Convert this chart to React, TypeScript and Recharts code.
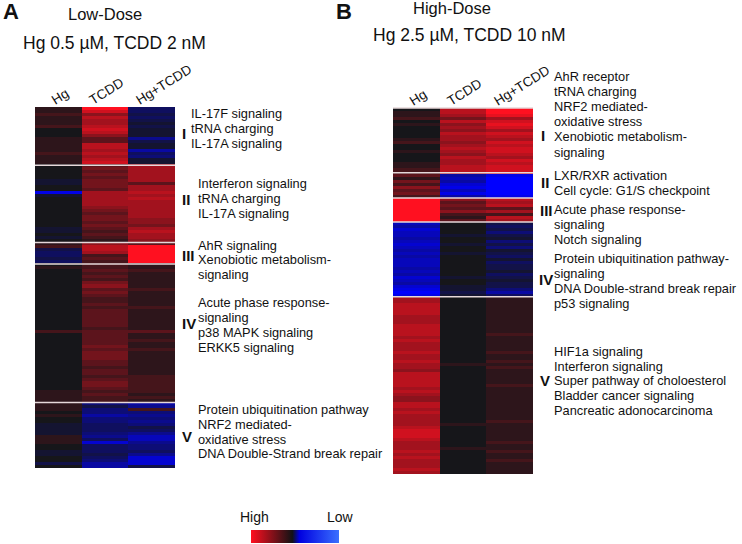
import React from "react";
import { BarChart, Bar, Cell, XAxis, YAxis, ReferenceLine } from "recharts";

const columns = ["Hg", "TCDD", "Hg+TCDD"];
const tickShift = [-3, -12, -12];

// Expression level per row, -10 (low) to 10 (high), one line per cluster.
const aHg = [
  1,1,2,1,1,1,2,0,0,0,1,1,1,1,1,2,1,1,1,
  0,0,0,0,0,-1,-1,0,0,-9,-1,0,0,0,0,0,0,0,0,0,0,-1,-1,0,-1,0,
  1,2,-2,-3,-3,-2,-3,
  0,1,0,0,0,0,0,0,0,0,0,0,0,0,0,0,0,0,0,0,0,0,2,0,0,0,0,0,0,0,0,0,0,0,0,0,0,0,0,0,0,0,1,1,1,1,
  1,1,1,0,1,0,0,-1,-1,-1,-1,1,1,1,0,0,-1,-1,0,0,-2,0,
];
const aTcdd = [
  10,8,5,7,6,6,7,8,7,5,3,3,7,7,6,7,6,7,8,
  3,4,3,4,3,4,4,4,3,6,6,6,6,6,5,4,3,4,4,3,4,3,2,3,2,1,
  5,7,7,6,2,3,2,
  2,2,3,2,3,2,4,5,3,4,3,2,2,3,2,3,3,3,3,3,3,2,3,3,3,3,3,4,3,4,4,4,3,3,2,3,3,2,3,4,4,3,2,3,2,2,
  -4,-2,-4,-4,-6,-4,-4,-3,-3,-3,-4,-5,-3,-8,-3,-3,-3,-2,-3,-4,-6,-6,
];
const aBoth = [
  -3,-3,-2,-3,-2,-1,-2,-1,-1,-1,-5,-2,-1,-1,-6,-3,-4,-1,-1,
  6,6,6,6,6,6,3,6,6,7,6,7,6,6,6,6,6,6,5,5,4,6,7,6,6,5,
  3,10,10,10,10,10,10,
  1,1,2,1,1,1,1,1,2,1,1,1,1,1,2,1,1,1,1,1,1,1,3,1,1,2,1,1,2,1,1,1,1,1,1,1,1,2,2,2,2,2,2,1,2,1,
  -6,-5,2,-4,-5,-4,-5,-4,-2,-3,-5,-7,-7,-5,-4,-4,-3,-5,-8,-8,-8,-2,
];
const aBreaks = [19.4, 45, 52.2, 98.2];

const bHg = [
  0,1,1,2,0,1,0,0,0,0,1,2,0,0,1,0,0,0,1,1,2,2,
  3,1,4,2,5,3,4,2,
  10,10,10,10,10,10,10,10,
  -7,-6,-8,-7,-7,-6,-7,-8,-7,-6,-7,-6,-7,-7,-7,-6,-7,-6,-8,-7,-6,-8,-9,-10,-9,
  6,6,7,7,7,7,6,6,6,7,7,7,7,6,7,6,6,6,7,6,6,7,6,6,5,7,7,7,7,7,6,7,6,5,5,7,7,6,7,6,6,6,6,7,8,8,8,7,6,6,6,7,6,7,6,6,6,7,6,
];
const bTcdd = [
  7,7,6,4,7,5,6,5,7,6,6,5,6,7,6,5,7,6,6,7,7,7,
  -6,-7,-6,-8,-9,-7,-9,-6,
  5,3,4,3,5,2,1,3,
  0,0,0,0,-1,0,0,-1,0,0,-1,0,0,0,0,0,0,0,-1,0,0,-1,-1,-2,-1,
  0,0,0,0,0,0,0,0,0,0,0,0,0,0,0,0,0,0,0,0,0,0,1,0,0,0,0,0,0,0,0,0,0,0,0,0,0,0,0,0,0,0,1,0,0,0,0,0,0,0,1,0,0,0,0,0,0,0,0,
];
const bBoth = [
  10,10,9,6,8,9,8,6,8,7,6,8,7,8,8,7,6,8,7,8,8,8,
  -9,-10,-10,-10,-10,-10,-10,-9,
  7,6,7,3,6,2,7,6,
  -2,-3,-2,-4,-2,-1,-4,-2,-4,-1,-2,-3,-1,-3,-2,-2,-1,-3,-2,-1,-2,-2,-4,-6,-3,
  1,1,1,1,1,1,1,1,1,1,1,1,2,1,1,1,1,1,2,1,1,2,1,2,1,1,1,1,1,2,1,1,1,1,1,1,1,1,1,1,1,2,1,1,1,1,1,1,2,1,1,2,1,1,2,1,1,1,1,
];
const bBreaks = [0, 21.6, 30, 38, 62.9];

type Note = [string, number, number];
const aNotes: Note[] = [
  ["IL-17F signaling", 191, 114], ["tRNA charging", 191, 129], ["IL-17A signaling", 191, 144],
  ["Interferon signaling", 198, 184], ["tRNA charging", 198, 199], ["IL-17A signaling", 198, 214],
  ["AhR signaling", 198, 246], ["Xenobiotic metabolism-", 198, 260], ["signaling", 198, 275],
  ["Acute phase response-", 198, 303], ["signaling", 198, 318], ["p38 MAPK signaling", 198, 333], ["ERKK5 signaling", 198, 348],
  ["Protein ubiquitination pathway", 198, 410], ["NRF2 mediated-", 198, 425], ["oxidative stress", 198, 440], ["DNA Double-Strand break repair", 198, 454],
];
const bNotes: Note[] = [
  ["AhR receptor", 554, 77], ["tRNA charging", 554, 92], ["NRF2 mediated-", 554, 107], ["oxidative stress", 554, 122],
  ["Xenobiotic metabolism-", 554, 137], ["signaling", 554, 153],
  ["LXR/RXR activation", 554, 176], ["Cell cycle: G1/S checkpoint", 554, 191],
  ["Acute phase response-", 554, 210], ["signaling", 554, 225], ["Notch signaling", 554, 240],
  ["Protein ubiquitination pathway-", 554, 259], ["signaling", 554, 274], ["DNA Double-strand break repair", 554, 289], ["p53 signaling", 554, 304],
  ["HIF1a signaling", 554, 352], ["Interferon signaling", 554, 367], ["Super pathway of choloesterol", 554, 381],
  ["Bladder cancer signaling", 554, 396], ["Pancreatic adonocarcinoma", 554, 411],
];
const romans: Note[] = [
  ["I", 182, 133], ["II", 182, 199], ["III", 182, 255], ["IV", 182, 323], ["V", 182, 436],
  ["I", 541, 135], ["II", 541, 182], ["III", 540, 210], ["IV", 539, 279], ["V", 540, 380],
];
const headings: Note[] = [
  ["Low-Dose", 68, 14], ["Hg 0.5 µM, TCDD 2 nM", 23, 44],
  ["High-Dose", 413, 8], ["Hg 2.5 µM, TCDD 10 nM", 373, 36],
];
const panelLetters: Note[] = [["A", 3, 12], ["B", 336, 12]];
const scaleLabels: Note[] = [["High", 240, 517], ["Low", 327, 517]];

const NEUTRAL = [22, 22, 26];
const HIGH = [255, 16, 32];
const LOW = [0, 0, 255];
function colour(v: number) {
  const end = v >= 0 ? HIGH : LOW;
  const t = Math.abs(v) / 10;
  const c = NEUTRAL.map((n, i) => Math.round(n + (end[i] - n) * t));
  return `rgb(${c[0]},${c[1]},${c[2]})`;
}

const AXIS_H = 40;
const PAD = 10;

function ColumnTick(props: any) {
  const x = props.x + tickShift[props.index];
  const y = PAD + AXIS_H - 2;
  return (
    <text x={x} y={y} transform={`rotate(-32 ${x} ${y})`} fontSize={13.5} fill="#111"
      fontFamily="Liberation Sans, Arial, sans-serif">{props.payload.value}</text>
  );
}

function Heatmap({ series, breaks, left, top, plotHeight }: {
  series: number[][]; breaks: number[]; left: number; top: number; plotHeight: number;
}) {
  const rows = series[0].length;
  const width = 200;
  const data = columns.map((name, c) => {
    const d: Record<string, any> = { name };
    series[c].forEach((_, r) => { d["r" + r] = 1; });
    return d;
  });
  return (
    <div style={{ position: "absolute", left: left - 5, top: top - AXIS_H - PAD }}>
      <BarChart width={width} height={plotHeight + AXIS_H + 2 * PAD} data={data} barCategoryGap={0}
        margin={{ top: PAD, left: 5, right: width - 145, bottom: PAD }}>
        <XAxis dataKey="name" orientation="top" height={AXIS_H} axisLine={false} tickLine={false} interval={0}
          tick={<ColumnTick />} />
        <YAxis type="number" hide reversed domain={[0, rows]} />
        {Array.from({ length: rows }, (_, r) => (
          <Bar key={r} dataKey={"r" + r} stackId="s" isAnimationActive={false}>
            {columns.map((_, c) => (
              <Cell key={c} fill={colour(series[c][r])} shapeRendering="crispEdges" />
            ))}
          </Bar>
        ))}
        {breaks.map((b) => (
          <ReferenceLine key={b} y={b} stroke="#e6d8da" strokeWidth={1.5} />
        ))}
      </BarChart>
    </div>
  );
}

function Label({ note, size, weight }: { note: Note; size: number; weight?: number }) {
  return (
    <div style={{
      position: "absolute", left: note[1], top: note[2] - size / 2, lineHeight: size + "px",
      fontSize: size, fontWeight: weight ?? 400, whiteSpace: "nowrap", color: "#111",
      fontFamily: "Liberation Sans, Arial, sans-serif",
    }}>{note[0]}</div>
  );
}

export default function App() {
  return (
    <div style={{ position: "absolute", left: 0, top: 0, width: 742, height: 544, background: "#fff", overflow: "hidden" }}>
      <Heatmap series={[aHg, aTcdd, aBoth]} breaks={aBreaks} left={35} top={107} plotHeight={361} />
      <Heatmap series={[bHg, bTcdd, bBoth]} breaks={bBreaks} left={393} top={108} plotHeight={366} />
      {aNotes.concat(bNotes).map((n, i) => <Label key={i} note={n} size={12.8} />)}
      {romans.map((n, i) => <Label key={i} note={n} size={15} weight={700} />)}
      {headings.map((n, i) => <Label key={i} note={n} size={i % 2 ? 17.5 : 16.5} />)}
      {panelLetters.map((n, i) => <Label key={i} note={n} size={22} weight={700} />)}
      {scaleLabels.map((n, i) => <Label key={i} note={n} size={14} />)}
      <div style={{
        position: "absolute", left: 251, top: 530, width: 88, height: 13,
        background: "linear-gradient(to right, #ff0f20 0%, #121214 47%, #0000e0 55%, #3a70ff 100%)",
      }} />
    </div>
  );
}
